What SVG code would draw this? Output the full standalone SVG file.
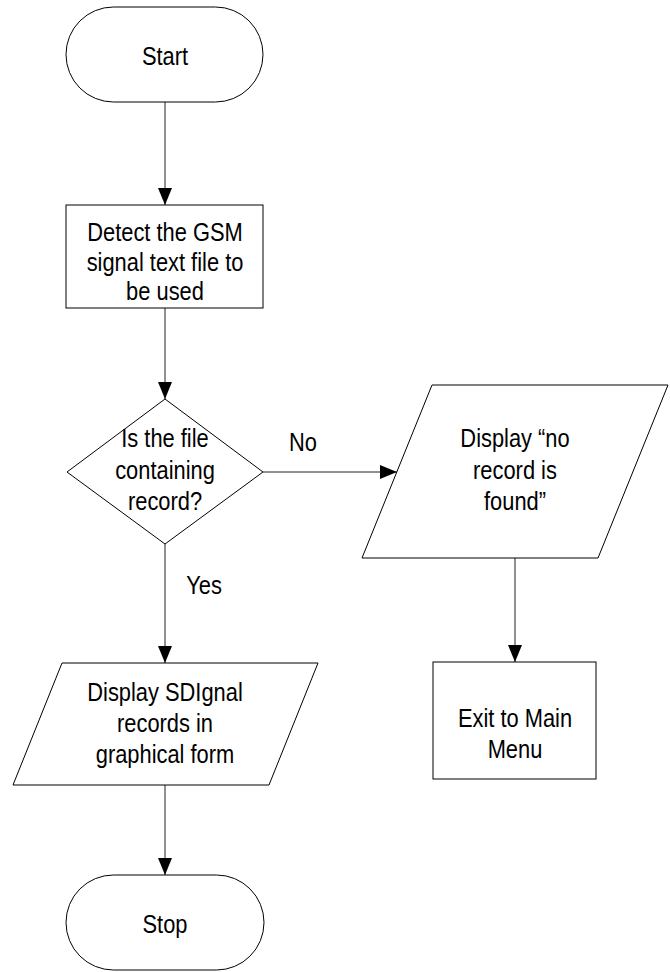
<svg xmlns="http://www.w3.org/2000/svg" width="670" height="972" viewBox="0 0 670 972">
  <style>
    .shape { fill: #fff; stroke: #000; stroke-width: 1; }
    .edge { fill: none; stroke: #222; stroke-width: 1; marker-end: url(#arrow); }
    text { font-family: "Liberation Sans", Arial, sans-serif; font-size: 25px; fill: #000; text-anchor: middle; }
  </style>
  <defs>
    <marker id="arrow" markerUnits="userSpaceOnUse" markerWidth="17" markerHeight="14" refX="17" refY="7" orient="auto">
      <path d="M0,0 L17,7 L0,14 z" fill="#000"/>
    </marker>
  </defs>
  <rect width="670" height="972" fill="#fff"/>

  <!-- connectors -->
  <g id="connectors">
    <line class="edge" x1="165" y1="102" x2="165" y2="205"/>
    <line class="edge" x1="165" y1="308" x2="165" y2="399"/>
    <line class="edge" x1="263" y1="472" x2="397" y2="472"/>
    <line class="edge" x1="165" y1="544" x2="165" y2="663"/>
    <line class="edge" x1="165" y1="785" x2="165" y2="875"/>
    <line class="edge" x1="515" y1="558" x2="515" y2="662"/>
  </g>

  <!-- edge labels -->
  <g id="labels">
    <text transform="translate(303 451) scale(0.875 1)">No</text>
    <text transform="translate(204 594) scale(0.875 1)">Yes</text>
  </g>

  <g id="start">
    <rect class="shape" x="66" y="7" width="197" height="95" rx="47.5" ry="47.5"/>
    <text transform="translate(165 65) scale(0.875 1)">Start</text>
  </g>

  <g id="detect">
    <rect class="shape" x="66" y="205" width="197" height="103"/>
    <text transform="translate(165 241) scale(0.875 1)">Detect the GSM</text>
    <text transform="translate(165 271) scale(0.875 1)">signal text file to</text>
    <text transform="translate(165 300) scale(0.875 1)">be used</text>
  </g>

  <g id="decision">
    <polygon class="shape" points="165,399 263,472 165,544 67,472"/>
    <text transform="translate(165 447) scale(0.875 1)">Is the file</text>
    <text transform="translate(165 479) scale(0.875 1)">containing</text>
    <text transform="translate(165 510) scale(0.875 1)">record?</text>
  </g>

  <g id="no-record">
    <polygon class="shape" points="432,385 668,385 598,558 362,558"/>
    <text transform="translate(515 447) scale(0.875 1)">Display “no</text>
    <text transform="translate(515 479) scale(0.875 1)">record is</text>
    <text transform="translate(515 510) scale(0.875 1)">found”</text>
  </g>

  <g id="exit">
    <rect class="shape" x="433" y="662" width="163" height="117"/>
    <text transform="translate(515 727) scale(0.875 1)">Exit to Main</text>
    <text transform="translate(515 758) scale(0.875 1)">Menu</text>
  </g>

  <g id="display">
    <polygon class="shape" points="62,663 318,663 269,785 13,785"/>
    <text transform="translate(165 701) scale(0.875 1)">Display SDIgnal</text>
    <text transform="translate(165 732) scale(0.875 1)">records in</text>
    <text transform="translate(165 763) scale(0.875 1)">graphical form</text>
  </g>

  <g id="stop">
    <rect class="shape" x="66" y="875" width="198" height="95" rx="47.5" ry="47.5"/>
    <text transform="translate(165 933) scale(0.875 1)">Stop</text>
  </g>
</svg>
